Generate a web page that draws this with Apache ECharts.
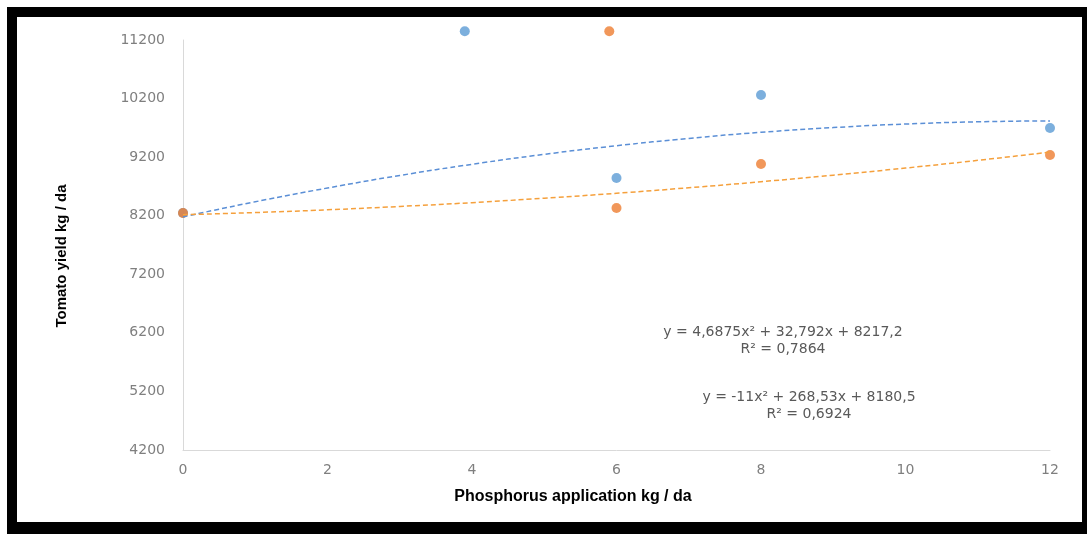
<!DOCTYPE html>
<html>
<head>
<meta charset="utf-8">
<script src="https://cdn.jsdelivr.net/npm/echarts@6/dist/echarts.min.js"></script>
<style>
  body { margin: 0; background: #fff; }
  #frame {
    position: absolute; left: 7px; top: 7px; width: 1080px; height: 527px;
    box-sizing: border-box; border-style: solid; border-color: #000;
    border-width: 10px 5px 12px 10px;
  }
  #chart { position: absolute; left: 0; top: 0; width: 1087px; height: 534px; }
</style>
</head>
<body>
<div id="frame"></div>
<div id="chart"></div>
<script>
// measured points (x = P kg/da, y = yield kg/da)
var blueX = [0, 3.9, 6, 8, 12];
var blueY = [8246, 11350, 8844, 10261, 9698];
var orangeX = [0, 5.9, 6, 8, 12];
var orangeY = [8246, 11350, 8332, 9083, 9237];

// trend lines
var trendX = [0, 1, 2, 3, 4, 5, 6, 7, 8, 9, 10, 11, 12];
var blueTrend = [8180, 8438, 8673, 8887, 9078, 9248, 9395, 9520, 9624, 9705, 9765, 9803, 9819];
var orangeTrend = [8217, 8254, 8301, 8358, 8423, 8499, 8583, 8677, 8780, 8892, 9014, 9145, 9286];

var yTicks = [4200, 5200, 6200, 7200, 8200, 9200, 10200, 11200];

var eq1 = 'y = 4,6875x² + 32,792x + 8217,2';
var r1 = 'R² = 0,7864';
var eq2 = 'y = -11x² + 268,53x + 8180,5';
var r2 = 'R² = 0,6924';

function pairs(xs, ys) {
  return xs.map(function (x, i) { return [x, ys[i]]; });
}

var myChart = echarts.init(document.getElementById('chart'));
var eqStyle = { fill: '#595959', fontSize: 14, fontFamily: 'DejaVu Sans', align: 'center', verticalAlign: 'middle' };

myChart.setOption({
  animation: false,
  grid: { left: 183, right: 37, top: 40, bottom: 84 },
  xAxis: {
    type: 'value',
    min: 0,
    max: 12,
    interval: 2,
    axisLine: { lineStyle: { color: '#d9d9d9' } },
    axisTick: { show: false },
    splitLine: { show: false },
    axisLabel: { color: '#7f7f7f', fontSize: 14, fontFamily: 'DejaVu Sans', margin: 13 },
  },
  yAxis: {
    type: 'value',
    min: 4200,
    max: 11200,
    axisLine: { show: true, lineStyle: { color: '#d9d9d9' } },
    axisTick: { show: false },
    splitLine: { show: false },
    axisLabel: {
      color: '#7f7f7f', fontSize: 14, fontFamily: 'DejaVu Sans', margin: 18,
      customValues: yTicks,
      formatter: function (v) { return String(v); },
    },
  },
  graphic: [
    {
      type: 'text', x: 62, y: 256, rotation: Math.PI / 2,
      style: { text: 'Tomato yield kg / da', fill: '#000', fontSize: 15, fontWeight: 'bold',
        fontFamily: 'Liberation Sans Narrow, Liberation Sans', align: 'center', verticalAlign: 'middle' },
    },
    {
      type: 'text', x: 573, y: 497,
      style: { text: 'Phosphorus application kg / da', fill: '#000', fontSize: 16, fontWeight: 'bold',
        fontFamily: 'Liberation Sans', align: 'center', verticalAlign: 'middle' },
    },
    { type: 'text', x: 783, y: 332, style: Object.assign({ text: eq1 }, eqStyle) },
    { type: 'text', x: 783, y: 349, style: Object.assign({ text: r1 }, eqStyle) },
    { type: 'text', x: 809, y: 397, style: Object.assign({ text: eq2 }, eqStyle) },
    { type: 'text', x: 809, y: 414, style: Object.assign({ text: r2 }, eqStyle) },
  ],
  series: [
    {
      type: 'line',
      data: pairs(trendX, blueTrend),
      smooth: true,
      showSymbol: false,
      lineStyle: { color: '#5b8fd6', width: 1.5, type: [5, 3] },
    },
    {
      type: 'line',
      data: pairs(trendX, orangeTrend),
      smooth: true,
      showSymbol: false,
      lineStyle: { color: '#f5a03c', width: 1.5, type: [5, 3] },
    },
    {
      type: 'scatter',
      data: pairs(blueX, blueY),
      symbolSize: 10,
      clip: false,
      itemStyle: { color: '#5b9bd5' },
    },
    {
      type: 'scatter',
      data: pairs(orangeX, orangeY),
      symbolSize: 10,
      clip: false,
      itemStyle: { color: '#ed7d31' },
    },
  ],
});
</script>
</body>
</html>
